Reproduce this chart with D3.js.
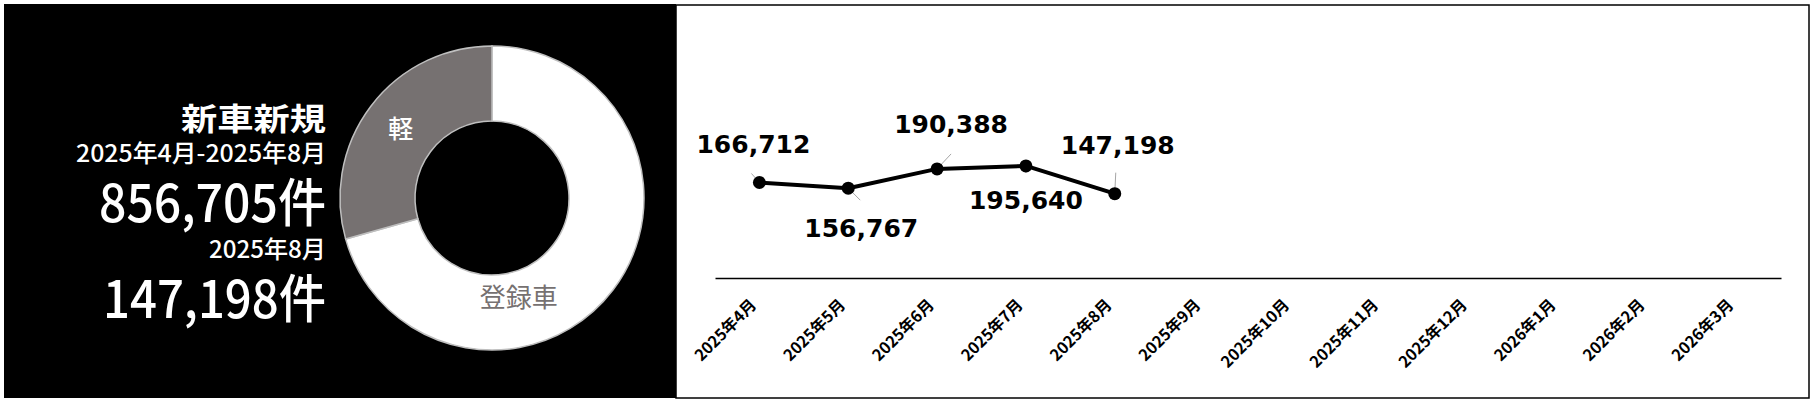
<!DOCTYPE html>
<html>
<head>
<meta charset="utf-8">
<script src="https://cdn.jsdelivr.net/npm/d3@7/dist/d3.min.js"></script>
<style>
  html, body { margin: 0; padding: 0; background: #ffffff; }
  svg { display: block; }
</style>
</head>
<body>
<svg id="chart" width="1813" height="404"></svg>
<script>
// ---- data ----
const months = ["2025年4月","2025年5月","2025年6月","2025年7月","2025年8月","2025年9月",
                "2025年10月","2025年11月","2025年12月","2026年1月","2026年2月","2026年3月"];
const monthlyValues = [166712, 156767, 190388, 195640, 147198];
const donutCategories = ["登録車", "軽"];
const donutValues = [605200, 251505];
const titleText = "新車新規";
const periodText = "2025年4月-2025年8月";
const totalText = "856,705件";
const latestMonthText = "2025年8月";
const latestValueText = "147,198件";

// ---- layout (not data) ----
const labelOffsets = [[-6, -29], [13, 49], [14, -36], [0, 43], [3, -40]];
const leaderEnds = [[-8, -9], [12, 12], [14, -15], [0, 7], [1, -21]];

const svg = d3.select("#chart");

// ---- left black panel ----
svg.append("rect").attr("x", 4).attr("y", 4).attr("width", 672).attr("height", 394).attr("fill", "#000");

const cjk = "'Noto Sans CJK JP', 'Noto Sans', sans-serif";
const leftTexts = [
  { t: titleText, y: 130, size: 31, w: 145, weight: 700 },
  { t: periodText, y: 162, size: 24, w: 250, weight: 500 },
  { t: totalText, y: 222, size: 52, w: 227, weight: 500 },
  { t: latestMonthText, y: 258, size: 24, w: 117, weight: 500 },
  { t: latestValueText, y: 318, size: 52, w: 223, weight: 500 }
];
svg.append("g").selectAll("text").data(leftTexts).join("text")
  .attr("x", d => 326 - d.w).attr("y", d => d.y)
  .attr("textLength", d => d.w).attr("lengthAdjust", "spacingAndGlyphs")
  .attr("font-family", cjk).attr("font-size", d => d.size).attr("font-weight", d => d.weight)
  .attr("fill", "#fff").text(d => d.t);

// donut
const cx = 492, cy = 198, R = 152, r = 77;
const pie = d3.pie().sort(null).value(d => d)(donutValues);
const arc = d3.arc().innerRadius(r).outerRadius(R);
const dg = svg.append("g").attr("transform", `translate(${cx},${cy})`);
const donutFill = ["#ffffff", "#767171"];
dg.selectAll("path").data(pie).join("path")
  .attr("d", arc).attr("fill", (d, i) => donutFill[i])
  .attr("stroke", "#bfbfbf").attr("stroke-width", 1.5);
// labels
const c1 = arc.centroid(pie[1]);
dg.append("text").attr("x", c1[0]).attr("y", c1[1]).attr("dy", "0.35em")
  .attr("text-anchor", "middle").attr("font-family", cjk).attr("font-size", 25).attr("font-weight", 500)
  .attr("fill", "#fff").text(donutCategories[1]);
// registered label moved toward the bottom of its slice
const regAngle = (165 / 180) * Math.PI, regR = 103;
dg.append("text").attr("x", regR * Math.sin(regAngle)).attr("y", -regR * Math.cos(regAngle)).attr("dy", "0.35em")
  .attr("text-anchor", "middle").attr("font-family", cjk).attr("font-size", 26).attr("font-weight", 400)
  .attr("fill", "#767171").text(donutCategories[0]);

// ---- right panel ----
svg.append("rect").attr("x", 676).attr("y", 5).attr("width", 1133).attr("height", 393)
  .attr("fill", "#fff").attr("stroke", "#000").attr("stroke-width", 1.5);

const x = d3.scaleBand().domain(months).range([715, 1781]);
const y = d3.scaleLinear().domain([0, 450000]).range([278, 278 - 450000 * 0.000573]);

const axis = svg.append("g").attr("transform", `translate(0,${y(0)})`)
  .call(d3.axisBottom(x).tickSize(0).tickSizeOuter(0));
axis.attr("font-size", null);
axis.select(".domain").attr("stroke", "#000").attr("stroke-width", 1.5);
axis.selectAll(".tick text")
  .attr("x", null).attr("y", null).attr("dy", null)
  .attr("transform", "translate(-2,28) rotate(-45)")
  .attr("text-anchor", "end")
  .attr("font-family", cjk).attr("font-size", 16).attr("font-weight", 700).attr("fill", "#000");

const pts = monthlyValues.map((v, i) => ({ v, m: months[i], px: x(months[i]) + x.bandwidth() / 2, py: y(v), i }));

// leader lines
svg.append("g").selectAll("line").data(pts).join("line")
  .attr("x1", d => d.px).attr("y1", d => d.py)
  .attr("x2", d => d.px + leaderEnds[d.i][0]).attr("y2", d => d.py + leaderEnds[d.i][1])
  .attr("stroke", "#a6a6a6").attr("stroke-width", 1);

svg.append("path").datum(pts)
  .attr("d", d3.line().x(d => d.px).y(d => d.py))
  .attr("fill", "none").attr("stroke", "#000").attr("stroke-width", 4).attr("stroke-linejoin", "round");

svg.append("g").selectAll("circle").data(pts).join("circle")
  .attr("cx", d => d.px).attr("cy", d => d.py).attr("r", 6.5).attr("fill", "#000");

svg.append("g").selectAll("text").data(pts).join("text")
  .attr("x", d => d.px + labelOffsets[d.i][0]).attr("y", d => d.py + labelOffsets[d.i][1])
  .attr("text-anchor", "middle")
  .attr("font-family", "'DejaVu Sans', Verdana, sans-serif").attr("font-size", 25).attr("font-weight", 700)
  .attr("fill", "#000").text(d => d3.format(",")(d.v));
</script>
</body>
</html>
